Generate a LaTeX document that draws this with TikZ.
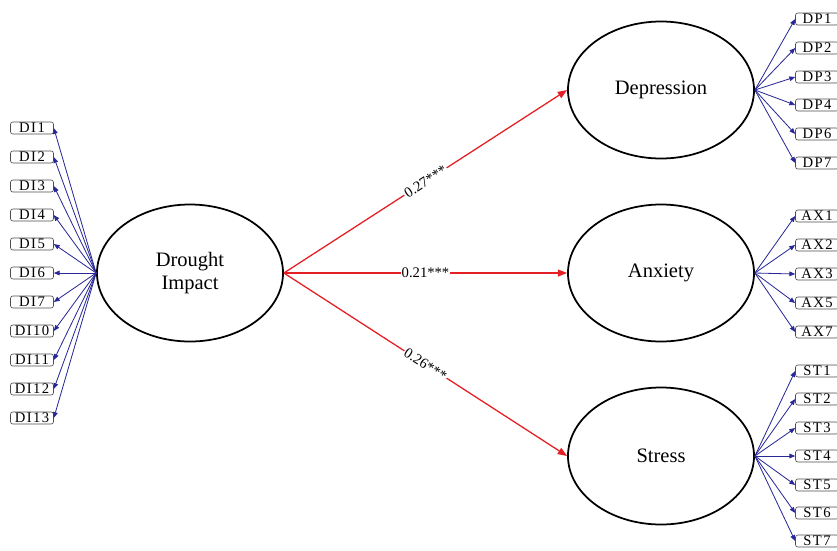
\documentclass[tikz,border=0pt]{standalone}
\usepackage{fontspec}
\setmainfont{Liberation Serif}
\newfontfamily\itemfont[LetterSpace=10]{Liberation Serif}
\usetikzlibrary{shapes.geometric, arrows.meta}

\definecolor{pathred}{RGB}{228,32,36}
\definecolor{loadblue}{RGB}{40,40,150}

\tikzset{
  latent/.style={draw, ellipse, line width=1.5pt, minimum width=5.58cm,
    minimum height=4.11cm, inner sep=0pt, align=center,
    font=\fontsize{17.5}{19.5}\selectfont},
  item/.style={draw=black!70, rounded corners=2pt, line width=0.5pt,
    minimum width=1.29cm, minimum height=0.36cm, inner sep=0pt,
    font=\fontsize{12.5}{13}\selectfont\itemfont},
  load/.style={-{Triangle[length=5pt,width=4pt]}, draw=loadblue, line width=0.7pt},
  path/.style={-{Triangle[length=8pt,width=6pt]}, draw=pathred, line width=1.1pt},
  coef/.style={fill=white, inner sep=1pt, sloped, font=\fontsize{12.5}{13}\selectfont}
}

\begin{document}
\begin{tikzpicture}[x=0.03cm, y=-0.03cm]
  \useasboundingbox (0, 0) rectangle (837, 550);

  % latent variables
  \node [latent] (di) at (190, 273) {Drought\\Impact};
  \node [latent] (dp) at (661, 90) {Depression};
  \node [latent] (ax) at (661, 273) {Anxiety};
  \node [latent] (st) at (661, 456) {Stress};

  % drought impact items
  \node [item] (di1) at (32, 128) {DI1};
  \node [item] (di2) at (32, 157) {DI2};
  \node [item] (di3) at (32, 186) {DI3};
  \node [item] (di4) at (32, 215) {DI4};
  \node [item] (di5) at (32, 244) {DI5};
  \node [item] (di6) at (32, 273) {DI6};
  \node [item] (di7) at (32, 302) {DI7};
  \node [item] (di10) at (32, 331) {DI10};
  \node [item] (di11) at (32, 360) {DI11};
  \node [item] (di12) at (32, 389) {DI12};
  \node [item] (di13) at (32, 418) {DI13};

  % depression items
  \node [item] (dp1) at (817, 19) {DP1};
  \node [item] (dp2) at (817, 48) {DP2};
  \node [item] (dp3) at (817, 77) {DP3};
  \node [item] (dp4) at (817, 105) {DP4};
  \node [item] (dp6) at (817, 134) {DP6};
  \node [item] (dp7) at (817, 163) {DP7};

  % anxiety items
  \node [item] (ax1) at (817, 216) {AX1};
  \node [item] (ax2) at (817, 245) {AX2};
  \node [item] (ax3) at (817, 274) {AX3};
  \node [item] (ax5) at (817, 303) {AX5};
  \node [item] (ax7) at (817, 332) {AX7};

  % stress items
  \node [item] (st1) at (817, 371) {ST1};
  \node [item] (st2) at (817, 399) {ST2};
  \node [item] (st3) at (817, 428) {ST3};
  \node [item] (st4) at (817, 456) {ST4};
  \node [item] (st5) at (817, 485) {ST5};
  \node [item] (st6) at (817, 513) {ST6};
  \node [item] (st7) at (817, 541) {ST7};

  % loadings
  \draw [load] (di.west) -- (di1.east);
  \draw [load] (di.west) -- (di2.east);
  \draw [load] (di.west) -- (di3.east);
  \draw [load] (di.west) -- (di4.east);
  \draw [load] (di.west) -- (di5.east);
  \draw [load] (di.west) -- (di6.east);
  \draw [load] (di.west) -- (di7.east);
  \draw [load] (di.west) -- (di10.east);
  \draw [load] (di.west) -- (di11.east);
  \draw [load] (di.west) -- (di12.east);
  \draw [load] (di.west) -- (di13.east);

  \draw [load] (dp.east) -- (dp1.west);
  \draw [load] (dp.east) -- (dp2.west);
  \draw [load] (dp.east) -- (dp3.west);
  \draw [load] (dp.east) -- (dp4.west);
  \draw [load] (dp.east) -- (dp6.west);
  \draw [load] (dp.east) -- (dp7.west);

  \draw [load] (ax.east) -- (ax1.west);
  \draw [load] (ax.east) -- (ax2.west);
  \draw [load] (ax.east) -- (ax3.west);
  \draw [load] (ax.east) -- (ax5.west);
  \draw [load] (ax.east) -- (ax7.west);

  \draw [load] (st.east) -- (st1.west);
  \draw [load] (st.east) -- (st2.west);
  \draw [load] (st.east) -- (st3.west);
  \draw [load] (st.east) -- (st4.west);
  \draw [load] (st.east) -- (st5.west);
  \draw [load] (st.east) -- (st6.west);
  \draw [load] (st.east) -- (st7.west);

  % structural paths
  \draw [path] (di.east) -- node [coef] {0.27***} (dp.west);
  \draw [path] (di.east) -- node [coef] {0.21***} (ax.west);
  \draw [path] (di.east) -- node [coef] {0.26***} (st.west);
\end{tikzpicture}
\end{document}
